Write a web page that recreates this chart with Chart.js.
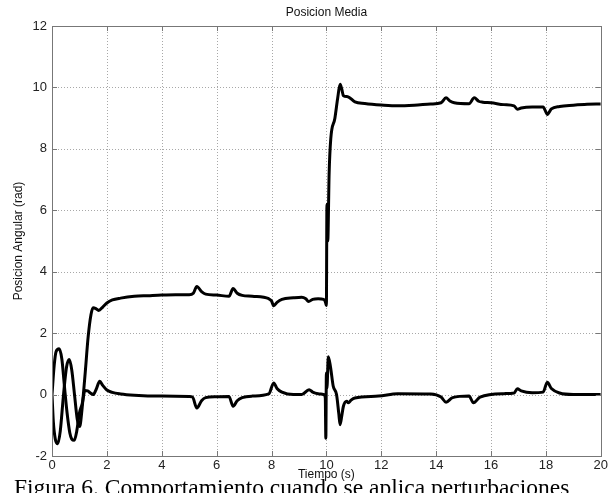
<!DOCTYPE html>
<html>
<head>
<meta charset="utf-8">
<script src="https://cdn.jsdelivr.net/npm/chart.js@4/dist/chart.umd.min.js"></script>
<style>
  html, body { margin: 0; padding: 0; background: #fff; overflow: hidden; }
  #wrap { position: relative; width: 610px; height: 493px; overflow: hidden; }
  #caption {
    position: absolute; left: 14px; top: 474px;
    font-family: "Liberation Serif", "Times New Roman", serif;
    font-size: 23.5px; line-height: 26px; color: #000; white-space: nowrap;
  }
</style>
</head>
<body>
<div id="wrap">
  <canvas id="chart" width="610" height="493"></canvas>
  <div id="caption">Figura 6. Comportamiento cuando se aplica perturbaciones</div>
</div>
<script>
// upper trace (ends near 3.2 then 9.4)
const timeUpper = [0, 0.05, 0.12, 0.21, 0.3, 0.42, 0.53, 0.63, 0.72, 0.82, 0.92, 1.01, 1.08, 1.2, 1.32, 1.42, 1.5, 1.6, 1.7, 1.85, 2.0, 2.2, 2.5, 3.0, 3.5, 4.0, 4.5, 5.0, 5.15, 5.28, 5.45, 5.6, 6.0, 6.45, 6.6, 6.75, 6.93, 7.3, 7.9, 8.0, 8.08, 8.2, 8.38, 8.8, 9.1, 9.25, 9.35, 9.5, 9.7, 9.9, 9.97, 10.0, 10.02, 10.05, 10.1, 10.16, 10.31, 10.41, 10.5, 10.56, 10.62, 10.78, 11.04, 11.4, 12.0, 12.6, 13.2, 13.8, 14.18, 14.36, 14.5, 14.66, 15.2, 15.39, 15.55, 15.7, 16.0, 16.47, 16.84, 16.96, 17.1, 17.5, 17.9, 18.0, 18.05, 18.2, 18.5, 19.0, 19.5, 20];
const posUpper = [0, -0.9, -1.45, -1.6, -1.2, 0.0, 0.9, 1.14, 0.8, 0.0, -0.8, -1.04, -0.6, 0.6, 1.9, 2.6, 2.83, 2.8, 2.74, 2.85, 2.98, 3.08, 3.14, 3.2, 3.22, 3.24, 3.25, 3.25, 3.3, 3.52, 3.35, 3.27, 3.24, 3.2, 3.45, 3.3, 3.23, 3.2, 3.12, 3.05, 2.89, 3.0, 3.1, 3.15, 3.17, 3.12, 3.03, 3.1, 3.12, 3.1, 3.0, 2.9, 6.2, 5.0, 7.2, 8.33, 9.0, 9.64, 10.1, 9.95, 9.73, 9.7, 9.53, 9.48, 9.43, 9.4, 9.42, 9.46, 9.5, 9.66, 9.56, 9.5, 9.47, 9.66, 9.55, 9.52, 9.5, 9.44, 9.4, 9.29, 9.33, 9.36, 9.36, 9.2, 9.12, 9.3, 9.38, 9.42, 9.45, 9.46];

// lower trace (settles near 0)
const timeLower = [0, 0.08, 0.15, 0.26, 0.36, 0.45, 0.55, 0.65, 0.72, 0.81, 0.9, 1.0, 1.1, 1.2, 1.3, 1.4, 1.5, 1.6, 1.74, 1.85, 2.0, 2.2, 2.5, 3.0, 4.0, 5.0, 5.12, 5.28, 5.45, 5.6, 6.0, 6.45, 6.6, 6.75, 6.93, 7.3, 7.9, 8.08, 8.2, 8.38, 8.8, 9.1, 9.37, 9.5, 9.7, 9.9, 9.96, 9.98, 10.0, 10.02, 10.07, 10.15, 10.25, 10.37, 10.45, 10.5, 10.56, 10.62, 10.74, 10.8, 10.9, 11.04, 11.9, 12.6, 13.8, 14.18, 14.36, 14.6, 15.2, 15.36, 15.6, 16.47, 16.84, 16.96, 17.1, 17.5, 17.9, 18.05, 18.2, 18.5, 19.0, 20];
const posLower = [0, 0.95, 1.4, 1.49, 1.15, 0.3, -0.6, -1.25, -1.45, -1.49, -1.2, -0.6, -0.3, 0.13, 0.12, 0.05, 0.0, 0.15, 0.43, 0.3, 0.15, 0.07, 0.02, -0.02, -0.05, -0.06, -0.08, -0.44, -0.2, -0.1, -0.07, -0.06, -0.38, -0.2, -0.1, -0.05, 0.02, 0.38, 0.2, 0.08, 0.0, 0.0, 0.16, 0.08, 0.03, 0.0, -0.1, -1.42, 0.7, 0.2, 1.23, 0.9, 0.27, 0.0, -0.6, -0.98, -0.7, -0.38, -0.22, -0.27, -0.18, -0.11, -0.05, 0.03, 0.02, -0.08, -0.25, -0.1, -0.05, -0.27, -0.08, 0.03, 0.05, 0.19, 0.12, 0.06, 0.08, 0.4, 0.2, 0.05, 0.0, 0.0];

const xTicks = [0, 2, 4, 6, 8, 10, 12, 14, 16, 18, 20];
const yTicks = [-2, 0, 2, 4, 6, 8, 10, 12];

const titleText = "Posicion Media";
const xLabel = "Tiempo (s)";
const yLabel = "Posicion Angular (rad)";

function toPoints(ts, ys) {
  return ts.map((t, i) => ({ x: t, y: ys[i] }));
}

// dotted grid under the lines
const gridPlugin = {
  id: "dotgrid",
  beforeDatasetsDraw(chart) {
    const ctx = chart.ctx;
    const a = chart.chartArea;
    const xs = chart.scales.x, ys = chart.scales.y;
    ctx.save();
    ctx.strokeStyle = "#a8a8a8";
    ctx.lineWidth = 1;
    ctx.setLineDash([1, 2]);
    ctx.beginPath();
    xTicks.forEach(v => {
      const px = Math.round(xs.getPixelForValue(v)) + 0.5;
      ctx.moveTo(px, a.top); ctx.lineTo(px, a.bottom);
    });
    yTicks.forEach(v => {
      const py = Math.round(ys.getPixelForValue(v)) + 0.5;
      ctx.moveTo(a.left, py); ctx.lineTo(a.right, py);
    });
    ctx.stroke();
    ctx.restore();
  }
};

// matlab-like frame, inward ticks and labels
const framePlugin = {
  id: "frame",
  afterDraw(chart) {
    const ctx = chart.ctx;
    const a = chart.chartArea;
    const xs = chart.scales.x, ys = chart.scales.y;
    ctx.save();
    ctx.strokeStyle = "#777";
    ctx.lineWidth = 1;
    ctx.strokeRect(Math.round(a.left) + 0.5, Math.round(a.top) + 0.5, Math.round(a.right - a.left), Math.round(a.bottom - a.top));
    ctx.beginPath();
    xTicks.forEach(v => {
      const px = Math.round(xs.getPixelForValue(v)) + 0.5;
      ctx.moveTo(px, a.bottom); ctx.lineTo(px, a.bottom - 5);
      ctx.moveTo(px, a.top); ctx.lineTo(px, a.top + 5);
    });
    yTicks.forEach(v => {
      const py = Math.round(ys.getPixelForValue(v)) + 0.5;
      ctx.moveTo(a.left, py); ctx.lineTo(a.left + 5, py);
      ctx.moveTo(a.right, py); ctx.lineTo(a.right - 5, py);
    });
    ctx.stroke();

    ctx.fillStyle = "#111";
    ctx.font = "12px 'Liberation Sans', Arial, sans-serif";
    ctx.textAlign = "center";
    ctx.textBaseline = "middle";
    ctx.fillText(titleText, (a.left + a.right) / 2, 13);
    ctx.fillText(xLabel, (a.left + a.right) / 2, 475);
    ctx.translate(19, 241);
    ctx.rotate(-Math.PI / 2);
    ctx.fillText(yLabel, 0, 0);
    ctx.restore();
  }
};

new Chart(document.getElementById("chart"), {
  type: "line",
  data: {
    datasets: [
      { data: toPoints(timeUpper, posUpper), borderColor: "#000", borderWidth: 3, pointRadius: 0, cubicInterpolationMode: "monotone" },
      { data: toPoints(timeLower, posLower), borderColor: "#000", borderWidth: 3, pointRadius: 0, cubicInterpolationMode: "monotone" }
    ]
  },
  options: {
    responsive: false,
    animation: false,
    layout: { padding: { top: 26, right: 6, left: 0, bottom: 0 } },
    plugins: { legend: { display: false }, tooltip: { enabled: false } },
    scales: {
      x: {
        type: "linear", min: 0, max: 20,
        afterBuildTicks: s => { s.ticks = xTicks.map(v => ({ value: v })); },
        afterFit: s => { s.height = 37; },
        grid: { display: false, drawTicks: false },
        border: { display: false },
        ticks: { padding: 2, color: "#222", font: { size: 13, family: "'Liberation Sans', Arial, sans-serif" }, maxRotation: 0 }
      },
      y: {
        min: -2, max: 12,
        afterBuildTicks: s => { s.ticks = yTicks.map(v => ({ value: v })); },
        afterFit: s => { s.width = 52; },
        grid: { display: false, drawTicks: false },
        border: { display: false },
        ticks: { padding: 5, color: "#222", font: { size: 13, family: "'Liberation Sans', Arial, sans-serif" } }
      }
    }
  },
  plugins: [gridPlugin, framePlugin]
});
</script>
</body>
</html>
